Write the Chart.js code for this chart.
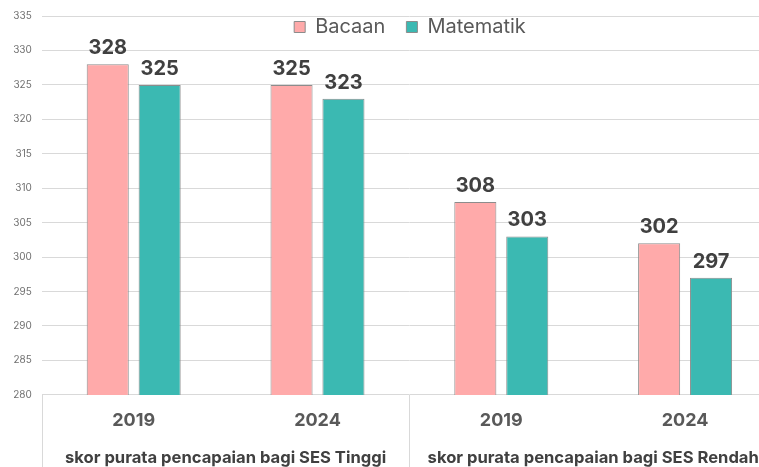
<!DOCTYPE html>
<html>
<head>
<meta charset="utf-8">
<script src="https://cdn.jsdelivr.net/npm/chart.js@4.4.1/dist/chart.umd.min.js"></script>
<style>
  html, body { margin: 0; padding: 0; background: #fff; overflow: hidden; }
  #wrap { width: 790px; height: 467px; position: relative; }
</style>
</head>
<body>
<div id="wrap"><canvas id="chart"></canvas></div>
<script>
// data
const years = ['2019', '2024', '2019', '2024'];
const groupLabels = ['skor purata pencapaian bagi SES Tinggi', 'skor purata pencapaian bagi SES Rendah'];
const bacaan = [328, 325, 308, 302];
const matematik = [325, 323, 303, 297];
const yMin = 280;
const yMax = 335;
const yStep = 5;

const FONT = 'Inter, "Liberation Sans", sans-serif';
const GRID = '#d9d9d9';

// legend sits over the plot, like the original
const legendOverlay = {
  id: 'legendOverlay',
  beforeInit(chart) {
    const fit = chart.legend.fit;
    chart.legend.fit = function () {
      fit.call(this);
      this.height = 0;
    };
  },
  afterLayout(chart) {
    const lg = chart.legend;
    lg.top = -4;
    lg.bottom = 46;
    lg.height = 50;
    lg.left += 20;
    lg.right += 20;
  }
};

// values above the bars
const barValueLabels = {
  id: 'barValueLabels',
  afterDatasetsDraw(chart) {
    const ctx = chart.ctx;
    ctx.save();
    ctx.font = 'bold 20px ' + FONT;
    ctx.fillStyle = '#404040';
    ctx.textAlign = 'center';
    ctx.textBaseline = 'alphabetic';
    chart.data.datasets.forEach((ds, i) => {
      chart.getDatasetMeta(i).data.forEach((bar, j) => {
        ctx.fillText(ds.data[j], bar.x, bar.y - 10);
      });
    });
    ctx.restore();
  }
};

// vertical lines between the category groups, under the plot
const groupSeparators = {
  id: 'groupSeparators',
  afterDraw(chart) {
    const s = chart.scales.x2;
    const ctx = chart.ctx;
    ctx.save();
    ctx.strokeStyle = GRID;
    ctx.lineWidth = 1;
    for (let i = 0; i <= groupLabels.length; i++) {
      const px = Math.round(s.getPixelForValue(i - 0.5)) + 0.5;
      ctx.beginPath();
      ctx.moveTo(px, chart.chartArea.bottom);
      ctx.lineTo(px, chart.height);
      ctx.stroke();
    }
    ctx.restore();
  }
};

new Chart(document.getElementById('chart'), {
  type: 'bar',
  data: {
    labels: years,
    datasets: [
      {
        label: 'Bacaan',
        data: bacaan,
        backgroundColor: '#FFAAAA',
        borderColor: '#8c8c8c',
        borderWidth: 1,
        categoryPercentage: 0.565,
        barPercentage: 0.81
      },
      {
        label: 'Matematik',
        data: matematik,
        backgroundColor: '#3BB9B2',
        borderColor: '#8c8c8c',
        borderWidth: 1,
        categoryPercentage: 0.565,
        barPercentage: 0.81
      }
    ]
  },
  options: {
    responsive: true,
    maintainAspectRatio: false,
    animation: false,
    layout: { padding: { left: 3, right: 13, top: 9, bottom: -3 } },
    plugins: {
      tooltip: { enabled: false },
      legend: {
        position: 'top',
        labels: {
          boxWidth: 11,
          boxHeight: 11,
          padding: 21,
          color: '#595959',
          font: { family: FONT, size: 20 }
        }
      }
    },
    scales: {
      y: {
        min: yMin,
        max: yMax,
        ticks: {
          stepSize: yStep,
          padding: 10,
          color: '#707070',
          font: { family: FONT, size: 10 }
        },
        grid: { color: GRID, drawTicks: false },
        border: { display: false }
      },
      x: {
        offset: true,
        weight: 0,
        grid: { display: false, drawTicks: false },
        border: { display: false },
        ticks: {
          padding: 14.7,
          maxRotation: 0,
          autoSkip: false,
          color: '#595959',
          font: { family: FONT, size: 18, weight: 'bold' }
        }
      },
      x2: {
        type: 'category',
        position: 'bottom',
        labels: groupLabels,
        offset: true,
        weight: 1,
        grid: { display: false, drawTicks: false },
        border: { display: false },
        ticks: {
          padding: 2.1,
          maxRotation: 0,
          autoSkip: false,
          color: '#404040',
          font: { family: FONT, size: 16.6, weight: 'bold' }
        }
      }
    }
  },
  plugins: [legendOverlay, barValueLabels, groupSeparators]
});
</script>
</body>
</html>
